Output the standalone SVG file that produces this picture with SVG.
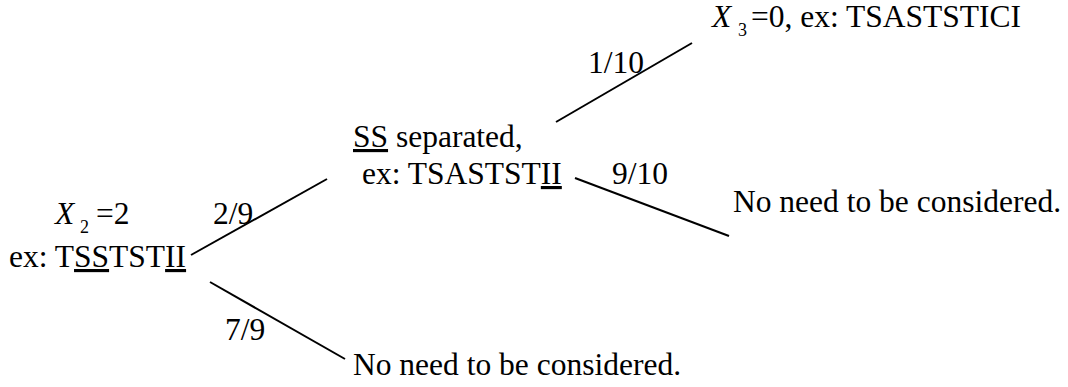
<svg xmlns="http://www.w3.org/2000/svg" width="1068" height="387" viewBox="0 0 1068 387" font-family="Liberation Serif, serif">
<style>
text{font-size:31.5px;fill:#000}
.it{font-style:italic}
.sub{font-size:18px}
.u{text-decoration:underline}
.edge{stroke:#000;stroke-width:2;fill:none}
</style>
<rect width="1068" height="387" fill="#fff"/>
<g id="connectors">
<line class="edge" x1="191" y1="255" x2="327" y2="179"/>
<line class="edge" x1="210" y1="282" x2="345" y2="359"/>
<line class="edge" x1="556" y1="122" x2="692" y2="43"/>
<line class="edge" x1="575" y1="178" x2="729" y2="236"/>
<text x="213" y="224">2/9</text>
<text x="225" y="340">7/9</text>
<text x="588" y="73">1/10</text>
<text x="612" y="184">9/10</text>
</g>
<g id="root">
<text class="it" x="55" y="224">X</text>
<text class="sub" x="80" y="233">2</text>
<text x="96" y="224">=2</text>
<text x="9" y="267">ex: T<tspan class="u">SS</tspan>TST<tspan class="u">II</tspan></text>
</g>
<g id="separated">
<text x="353" y="147"><tspan class="u">SS</tspan> separated,</text>
<text x="362" y="184">ex: TSASTST<tspan class="u">II</tspan></text>
</g>
<g id="x3">
<text class="it" x="712" y="27">X</text>
<text class="sub" x="738" y="36">3</text>
<text x="751" y="27">=0, ex: TSASTSTICI</text>
</g>
<g id="noneed1">
<text x="733" y="212">No need to be considered.</text>
</g>
<g id="noneed2">
<text x="353" y="375">No need to be considered.</text>
</g>
</svg>
